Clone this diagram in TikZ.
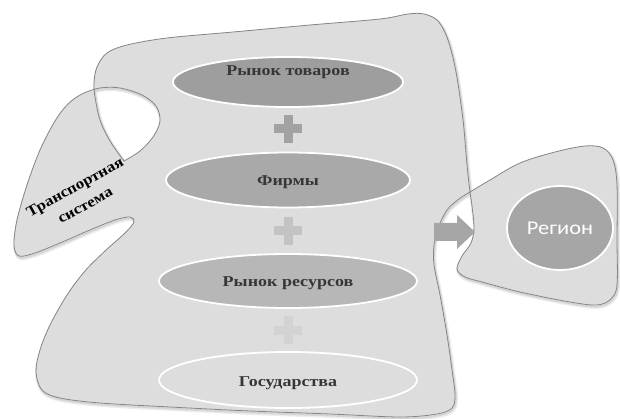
\documentclass[tikz,border=0pt]{standalone}
\usepackage{fontspec}
\setmainfont{Liberation Serif}
\newfontfamily\regfont{Carlito}
\usetikzlibrary{shapes.geometric}
\begin{document}
\begin{tikzpicture}[x=1pt,y=-1pt,
  blob/.style={fill=blobfill, draw=blobline, line width=0.8pt, even odd rule,
    preaction={draw=black, opacity=0.07, line width=4pt, transform canvas={shift={(1pt,-2pt)}}},
    preaction={draw=black, opacity=0.10, line width=2pt, transform canvas={shift={(0.8pt,-1.5pt)}}}},
  oval/.style={ellipse, draw=white, line width=1.8pt, inner sep=0pt},
  lbl/.style={font=\bfseries\fontsize{15}{17}\selectfont, text=txtgray, xscale=1.2},
  plus/.style={fill=#1, draw=none}
]
\definecolor{blobfill}{HTML}{DDDDDD}
\definecolor{blobline}{HTML}{858585}
\definecolor{txtgray}{HTML}{363636}
\definecolor{eA}{HTML}{9E9E9E}
\definecolor{eB}{HTML}{A9A9A9}
\definecolor{eC}{HTML}{B7B7B7}
\definecolor{eD}{HTML}{DDDDDD}
\definecolor{pA}{HTML}{A2A2A2}
\definecolor{pB}{HTML}{C3C3C3}
\definecolor{pC}{HTML}{D3D3D3}
\definecolor{arr}{HTML}{A6A6A6}
\useasboundingbox (0,0) rectangle (620,419);
% combined outline: transport system + economy + region
\path[blob] plot[smooth, tension=0.55] coordinates {
 (124,161) (140,151) (153,137) (160,121) (156,106) (142,95) (120,88) (100,88)
 (82,94) (68,104) (55,121) (40,150) (27,185) (17,220) (14,245) (19,256)
 (35,253) (60,243) (90,230) (115,220) (130,217) (134,222) (125,233)
 (105,251) (85,271) (67,295) (50,325) (40,350) (36,372) (42,390) (60,398)
 (100,403) (170,407) (250,411) (330,414) (400,417) (437,414) (452,408)
 (455,395) (452,370) (447,335) (440,295) (434,265) (434,245) (438,228)
 (447,210) (459,199) (470,192) (490,180) (520,163) (555,152) (585,146)
 (603,148) (613,160) (617,185) (617,240) (617,285) (611,299) (597,305)
 (570,302) (520,292) (482,282) (465,277) (457,269) (462,256) (471,243)
 (474,228) (472,206) (470,192) (467,165) (463,120) (456,72) (448,40)
 (438,21) (424,14) (408,14) (380,19) (310,25) (233,32) (167,38) (127,45)
 (107,53) (97,67) (94,83) (95,97) (100,120) (110,141) (124,161)
} -- cycle;
% arrow towards the region
\path[fill=arr] (434,223) -- (457,223) -- (457,215) -- (475,232) -- (457,249)
  -- (457,241) -- (434,241) -- cycle;
% ovals
\node[oval, fill=eA, minimum width=230, minimum height=50] (e1) at (288,82) {};
\node[lbl] (t1) at (288,72) {Рынок товаров};
\node[oval, fill=eB, minimum width=244, minimum height=55] (e2) at (288,180) {};
\node[lbl] (t2) at (288,182) {Фирмы};
\node[oval, fill=eC, minimum width=258, minimum height=54] (e3) at (288,281) {};
\node[lbl] (t3) at (288,283) {Рынок ресурсов};
\node[oval, fill=eD, minimum width=258, minimum height=56] (e4) at (288,380) {};
\node[lbl] (t4) at (288,383) {Государства};
% plus signs
\foreach \cy/\col in {129/pA, 231/pB, 330/pC}{
  \path[plus=\col] (283.5,\cy-14) rectangle (292.5,\cy+14);
  \path[plus=\col] (274,\cy-4.5) rectangle (302,\cy+4.5);
}
% region
\node[oval, fill=arr, minimum width=106, minimum height=84] (reg) at (560,228) {};
\node[text=white, font=\regfont\fontsize{19.5}{21}\selectfont, xscale=1.15]
  (regt) at (560,228) {Регион};
% transport system label
\node[rotate=29, xscale=1.12, align=center, font=\bfseries\fontsize{15}{21}\selectfont, text=black]
  (ts) at (80,196) {Транспортная\\система};
\end{tikzpicture}
\end{document}
